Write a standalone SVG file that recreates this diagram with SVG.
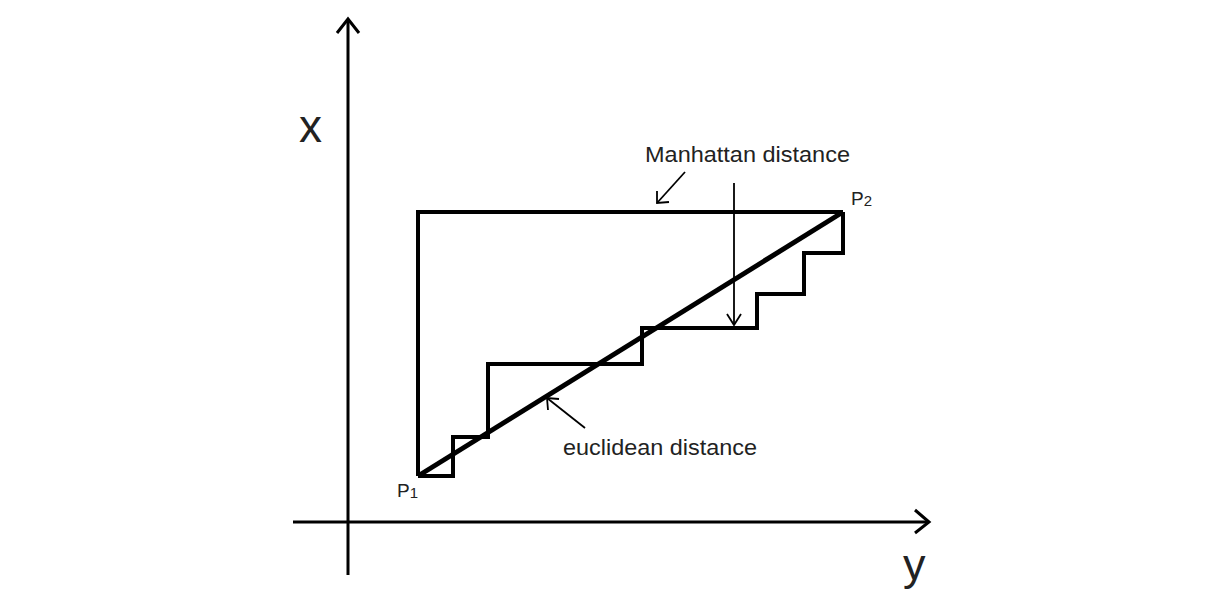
<svg xmlns="http://www.w3.org/2000/svg" width="1216" height="609" viewBox="0 0 1216 609">
<style>
.ax{stroke:#000;stroke-width:3;fill:none}
.sh{stroke:#000;stroke-width:4;fill:none;stroke-linejoin:miter}
.ar{stroke:#000;stroke-width:1.8;fill:none}
.t{font-family:"Liberation Sans",Arial,sans-serif;fill:#222}
</style>
<rect width="1216" height="609" fill="#fff"/>
<g id="axes">
<line class="ax" x1="348" y1="19" x2="348" y2="575"/>
<polyline class="ax" points="337,33 348,19 359,33"/>
<line class="ax" x1="293" y1="522" x2="928" y2="522"/>
<polyline class="ax" points="915,510 929,522 915,533"/>
<text class="t" x="299" y="142" font-size="46">x</text>
<text class="t" x="903" y="580" font-size="45">y</text>
</g>
<g id="manhattan-box">
<polyline class="sh" points="418,476 418,212 843,212"/>
</g>
<g id="staircase">
<polyline class="sh" points="418,476 453,476 453,437 488,437 488,364 642,364 642,328 757,328 757,294 804,294 804,253 843,253 843,212"/>
</g>
<g id="euclidean">
<line x1="418" y1="476" x2="843" y2="212" stroke="#000" stroke-width="5"/>
</g>
<g id="p1"><text class="t" x="397" y="497" font-size="19">P<tspan font-size="15" dy="1">1</tspan></text></g>
<g id="p2"><text class="t" x="851" y="205" font-size="19">P<tspan font-size="15" dy="1">2</tspan></text></g>
<g id="connectors">
<line class="ar" x1="734" y1="183" x2="734" y2="325"/>
<polyline class="ar" points="727,314 734,325 741,314"/>
<line class="ar" x1="685" y1="172" x2="657" y2="203"/>
<polyline class="ar" points="657,191 657,203 669,202"/>
<line class="ar" x1="585" y1="428" x2="547" y2="398"/>
<polyline class="ar" points="548,410 547,398 559,399"/>
</g>
<g id="labels">
<text class="t" x="645" y="162" font-size="22" textLength="205" lengthAdjust="spacingAndGlyphs">Manhattan distance</text>
<text class="t" x="563" y="455" font-size="22" textLength="194" lengthAdjust="spacingAndGlyphs">euclidean distance</text>
</g>
</svg>
